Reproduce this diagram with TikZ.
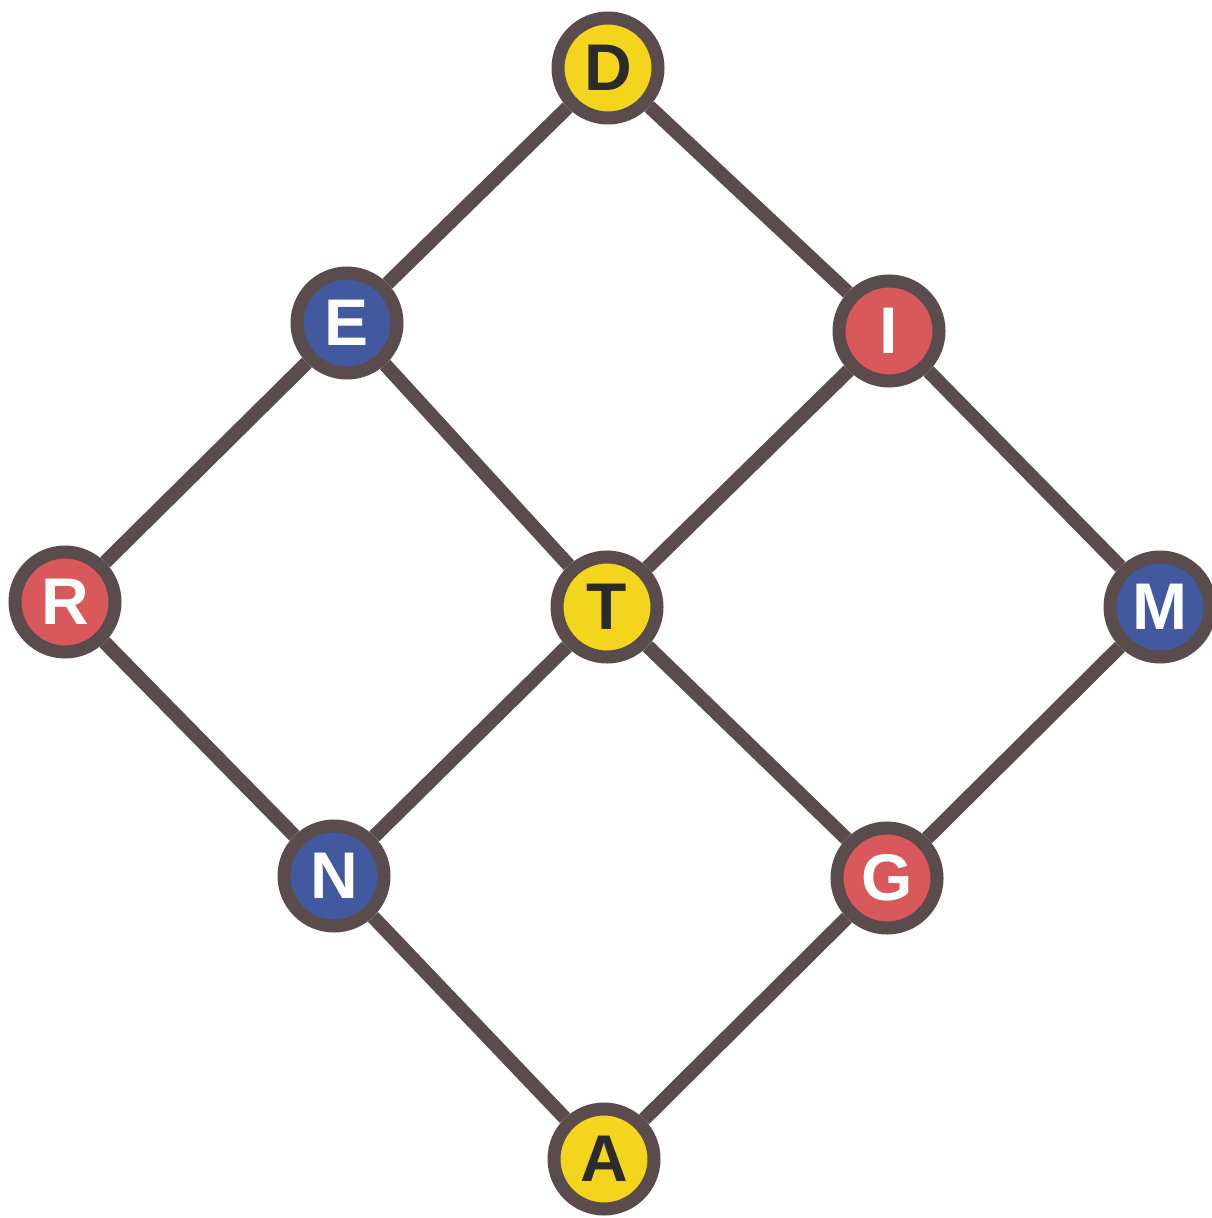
\documentclass[tikz,border=0pt]{standalone}
\usepackage{fontspec}
\setmainfont{Liberation Sans}
\definecolor{edgec}{HTML}{5A4B4C}
\definecolor{yel}{HTML}{F4D51E}
\definecolor{blu}{HTML}{4259A0}
\definecolor{redc}{HTML}{D9585C}
\definecolor{txtd}{HTML}{2B2B2B}
\begin{document}
\begin{tikzpicture}[x=0.5pt,y=-0.5pt,
  vtx/.style={circle,draw=edgec,line width=6.5pt,minimum size=50pt,inner sep=0pt,
    font=\fontsize{33}{33}\selectfont\bfseries},
  yv/.style={vtx,fill=yel,text=txtd},
  bv/.style={vtx,fill=blu,text=white},
  rv/.style={vtx,fill=redc,text=white},
  edge/.style={draw=edgec,line width=7pt}]
\useasboundingbox (0,0) rectangle (1211,1218);
\node[yv] (D) at (608,68) {D};
\node[bv] (E) at (347,323) {E};
\node[rv] (I) at (889,331) {I};
\node[rv] (R) at (65,602) {R};
\node[yv] (T) at (607,607) {T};
\node[bv] (M) at (1160,607) {M};
\node[bv] (N) at (334,876) {N};
\node[rv] (G) at (887,878) {G};
\node[yv] (A) at (604,1159) {A};
\foreach \a/\b in {D/E,D/I,E/R,E/T,I/T,I/M,R/N,T/N,T/G,M/G,N/A,G/A}
  \path[edge] (\a) -- (\b);
\end{tikzpicture}
\end{document}
